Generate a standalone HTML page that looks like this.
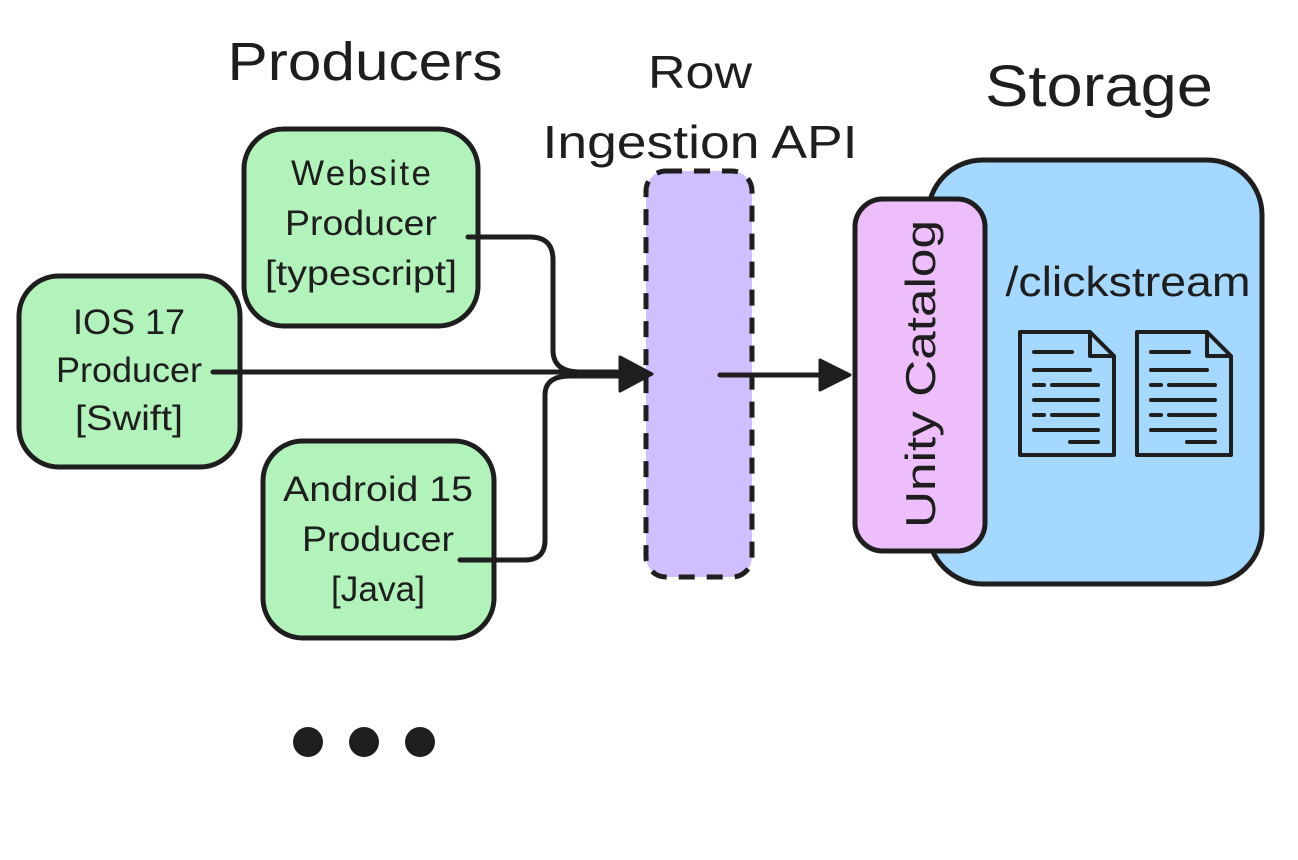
<!DOCTYPE html>
<html><head><meta charset="utf-8"><style>
html,body{margin:0;padding:0;background:#fff;}
svg{display:block;}
text{font-family:"Liberation Sans","DejaVu Sans",sans-serif;fill:#1e1e1e;}
</style></head><body>
<svg width="1298" height="860" viewBox="0 0 1298 860" xmlns="http://www.w3.org/2000/svg">
<text x="365" y="80" font-size="54" text-anchor="middle" textLength="275" lengthAdjust="spacingAndGlyphs">Producers</text>
<text x="700" y="88" font-size="46" text-anchor="middle" textLength="104" lengthAdjust="spacingAndGlyphs">Row</text>
<text x="700" y="158" font-size="46" text-anchor="middle" textLength="315" lengthAdjust="spacingAndGlyphs">Ingestion API</text>
<text x="1099" y="106" font-size="58" text-anchor="middle" textLength="228" lengthAdjust="spacingAndGlyphs">Storage</text>

<!-- storage -->
<rect x="928" y="160" width="334" height="424" rx="55" fill="#a5d8ff" stroke="#1e1e1e" stroke-width="5"/>
<rect x="855" y="199" width="130" height="352" rx="28" fill="#eebefa" stroke="#1e1e1e" stroke-width="5"/>
<text transform="translate(935,374) rotate(-90)" font-size="42" text-anchor="middle" textLength="308" lengthAdjust="spacingAndGlyphs">Unity Catalog</text>
<text x="1128" y="296" font-size="42" text-anchor="middle" textLength="245" lengthAdjust="spacingAndGlyphs">/clickstream</text>
<g fill="none" stroke="#1e1e1e" stroke-width="4" stroke-linejoin="round">
<path d="M1020 332 H1090 L1114 356 V455 H1020 Z M1090 332 V356 H1114"/>
<path d="M1137 332 H1207 L1231 356 V455 H1137 Z M1207 332 V356 H1231"/>
</g>
<g stroke="#1e1e1e" stroke-width="4" stroke-linecap="round">
<line x1="1034" y1="352" x2="1072" y2="352"/><line x1="1034" y1="370" x2="1090" y2="370"/>
<line x1="1034" y1="385" x2="1044" y2="385"/><line x1="1052" y1="385" x2="1098" y2="385"/>
<line x1="1034" y1="400" x2="1098" y2="400"/><line x1="1034" y1="415" x2="1044" y2="415"/>
<line x1="1052" y1="415" x2="1098" y2="415"/><line x1="1034" y1="430" x2="1098" y2="430"/>
<line x1="1070" y1="442" x2="1098" y2="442"/>
<line x1="1151" y1="352" x2="1189" y2="352"/><line x1="1151" y1="370" x2="1207" y2="370"/>
<line x1="1151" y1="385" x2="1161" y2="385"/><line x1="1169" y1="385" x2="1215" y2="385"/>
<line x1="1151" y1="400" x2="1215" y2="400"/><line x1="1151" y1="415" x2="1161" y2="415"/>
<line x1="1169" y1="415" x2="1215" y2="415"/><line x1="1151" y1="430" x2="1215" y2="430"/>
<line x1="1187" y1="442" x2="1215" y2="442"/>
</g>

<!-- api -->
<rect x="646" y="171" width="106" height="406" rx="20" fill="#d0bfff" stroke="#1e1e1e" stroke-width="5" stroke-dasharray="16 12"/>

<!-- producers -->
<rect x="244" y="129" width="234" height="197" rx="40" fill="#b2f2bb" stroke="#1e1e1e" stroke-width="5"/>
<text font-size="35" text-anchor="middle" lengthAdjust="spacingAndGlyphs">
<tspan x="361" y="185" textLength="140">Website</tspan></text>
<text font-size="35" text-anchor="middle"><tspan x="361" y="235" textLength="152" lengthAdjust="spacingAndGlyphs">Producer</tspan></text>
<text font-size="35" text-anchor="middle"><tspan x="361" y="285" textLength="192" lengthAdjust="spacingAndGlyphs">[typescript]</tspan></text>
<rect x="19" y="276" width="221" height="191" rx="40" fill="#b2f2bb" stroke="#1e1e1e" stroke-width="5"/>
<text x="129" y="334" font-size="35" text-anchor="middle" textLength="112" lengthAdjust="spacingAndGlyphs">IOS 17</text>
<text x="129" y="382" font-size="35" text-anchor="middle" textLength="146" lengthAdjust="spacingAndGlyphs">Producer</text>
<text x="129" y="430" font-size="35" text-anchor="middle" textLength="108" lengthAdjust="spacingAndGlyphs">[Swift]</text>
<rect x="263" y="441" width="231" height="197" rx="40" fill="#b2f2bb" stroke="#1e1e1e" stroke-width="5"/>
<text x="378" y="501" font-size="35" text-anchor="middle" textLength="190" lengthAdjust="spacingAndGlyphs">Android 15</text>
<text x="378" y="551" font-size="35" text-anchor="middle" textLength="152" lengthAdjust="spacingAndGlyphs">Producer</text>
<text x="378" y="601" font-size="35" text-anchor="middle" textLength="94" lengthAdjust="spacingAndGlyphs">[Java]</text>

<!-- connectors -->
<g fill="none" stroke="#1e1e1e" stroke-width="5" stroke-linecap="round">
<path d="M213 372 H625"/>
<path d="M468 237 H530 Q553 237 553 260 V350 Q553 372 580 372 H625"/>
<path d="M460 560 H525 Q545 560 545 540 V395 Q545 376 570 376 H625"/>
<path d="M720 375 H822"/>
</g>
<polygon points="620,357 652,374 620,391" fill="#1e1e1e" stroke="#1e1e1e" stroke-width="3" stroke-linejoin="round"/>
<polygon points="820,360 850,375 820,390" fill="#1e1e1e" stroke="#1e1e1e" stroke-width="3" stroke-linejoin="round"/>

<circle cx="308" cy="742" r="15" fill="#1e1e1e"/>
<circle cx="364" cy="742" r="15" fill="#1e1e1e"/>
<circle cx="420" cy="742" r="15" fill="#1e1e1e"/>
</svg>
</body></html>
